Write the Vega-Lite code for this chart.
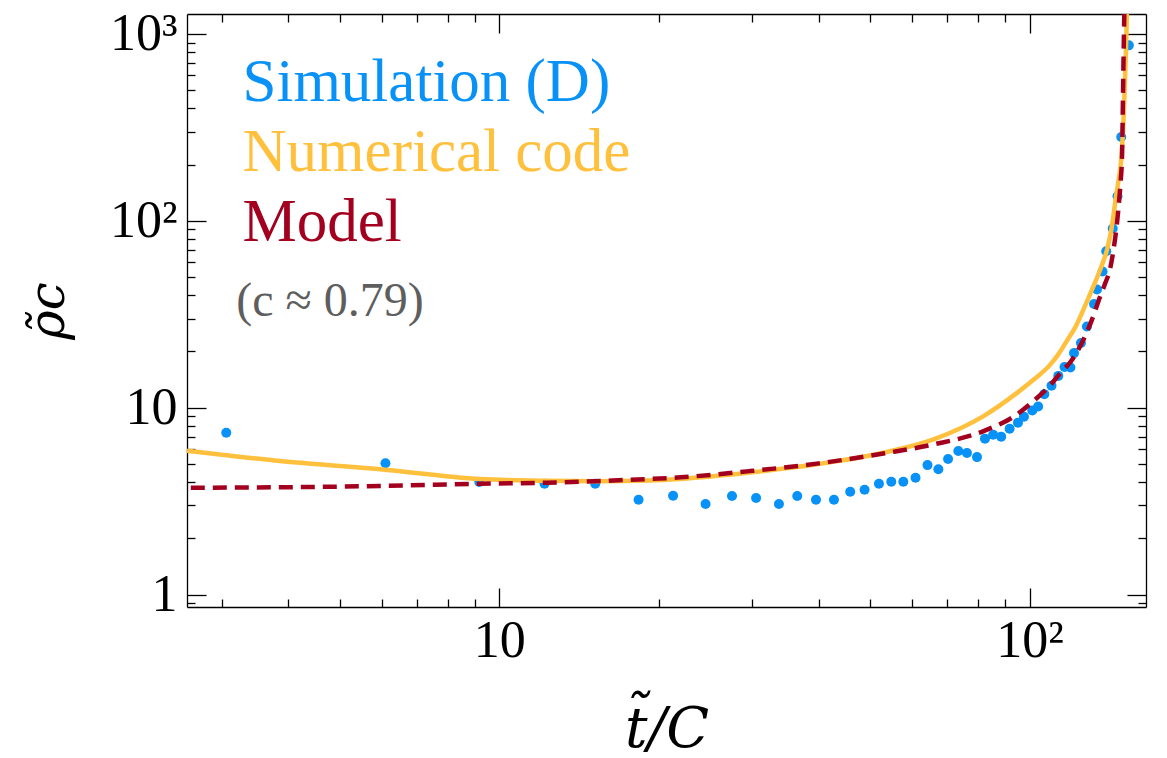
{
  "$schema": "https://vega.github.io/schema/vega-lite/v6.json",
  "width": 959,
  "height": 593,
  "autosize": {"type": "none"},
  "padding": {"left": 187, "top": 14, "right": 21, "bottom": 151},
  "background": "white",
  "config": {
    "view": {"stroke": null},
    "axis": {
      "grid": false,
      "labelFont": "Liberation Serif",
      "labelFontSize": 52,
      "labelColor": "black",
      "tickColor": "black",
      "tickWidth": 1.3,
      "domainColor": "black",
      "domainWidth": 1.3,
      "titleFont": "DejaVu Serif",
      "titleColor": "black",
      "titleFontWeight": "normal",
      "labelFlush": false,
      "labelOverlap": false
    }
  },
  "datasets": {
    "sim": [
      {"t": 3.056, "rho": 7.35}, {"t": 6.10, "rho": 5.04}, {"t": 9.17, "rho": 4.0},
      {"t": 12.17, "rho": 3.92}, {"t": 15.17, "rho": 3.92}, {"t": 18.31, "rho": 3.22},
      {"t": 21.27, "rho": 3.38}, {"t": 24.49, "rho": 3.05}, {"t": 27.47, "rho": 3.37},
      {"t": 30.5, "rho": 3.29}, {"t": 33.68, "rho": 3.05}, {"t": 36.47, "rho": 3.37},
      {"t": 39.56, "rho": 3.22}, {"t": 42.77, "rho": 3.22}, {"t": 45.9, "rho": 3.55},
      {"t": 48.85, "rho": 3.64}, {"t": 52.0, "rho": 3.92}, {"t": 54.86, "rho": 4.02},
      {"t": 57.8, "rho": 4.02}, {"t": 60.95, "rho": 4.22}, {"t": 64.2, "rho": 4.93},
      {"t": 67.3, "rho": 4.68}, {"t": 70.2, "rho": 5.31}, {"t": 73.4, "rho": 5.86},
      {"t": 76.2, "rho": 5.72}, {"t": 79.6, "rho": 5.44}, {"t": 82.4, "rho": 6.83},
      {"t": 85.4, "rho": 7.17}, {"t": 88.4, "rho": 7.0}, {"t": 91.7, "rho": 7.72},
      {"t": 95.1, "rho": 8.32}, {"t": 97.6, "rho": 8.95}, {"t": 101.2, "rho": 9.67},
      {"t": 103.8, "rho": 10.16}, {"t": 106.6, "rho": 11.82}, {"t": 110.0, "rho": 13.1},
      {"t": 113.3, "rho": 14.8}, {"t": 116.4, "rho": 16.5}, {"t": 119.4, "rho": 16.4},
      {"t": 121.3, "rho": 19.6}, {"t": 125.0, "rho": 22.2}, {"t": 128.3, "rho": 27.2},
      {"t": 132.3, "rho": 35.9}, {"t": 134.0, "rho": 42.9}, {"t": 137.3, "rho": 53.6},
      {"t": 139.5, "rho": 68.8}, {"t": 143.5, "rho": 91.0}, {"t": 146.5, "rho": 135.4},
      {"t": 148.9, "rho": 281}, {"t": 153.9, "rho": 869}
    ],
    "num": [
      {"t": 2.577, "rho": 5.88}, {"t": 3.0, "rho": 5.6}, {"t": 3.86, "rho": 5.18},
      {"t": 5.96, "rho": 4.68}, {"t": 9.2, "rho": 4.15}, {"t": 12.3, "rho": 4.06},
      {"t": 15.2, "rho": 4.04}, {"t": 19.27, "rho": 4.08}, {"t": 21.95, "rho": 4.16},
      {"t": 29.7, "rho": 4.5}, {"t": 39.7, "rho": 4.98}, {"t": 53.0, "rho": 5.74},
      {"t": 65.9, "rho": 6.77}, {"t": 81.9, "rho": 9.02}, {"t": 94.7, "rho": 12.0},
      {"t": 101.7, "rho": 14.1}, {"t": 109.4, "rho": 17.0}, {"t": 113.3, "rho": 19.3},
      {"t": 117.6, "rho": 22.8}, {"t": 122.0, "rho": 27.0}, {"t": 126.4, "rho": 33.6},
      {"t": 132.0, "rho": 44.7}, {"t": 135.9, "rho": 54.9}, {"t": 140.0, "rho": 70.2},
      {"t": 143.0, "rho": 93.6}, {"t": 145.0, "rho": 124.8}, {"t": 147.2, "rho": 166},
      {"t": 148.9, "rho": 213}, {"t": 150.9, "rho": 445}, {"t": 152.0, "rho": 824},
      {"t": 152.7, "rho": 1400}
    ],
    "model": [
      {"t": 2.62, "rho": 3.73}, {"t": 5.96, "rho": 3.81}, {"t": 9.2, "rho": 3.92},
      {"t": 12.3, "rho": 3.97}, {"t": 16.4, "rho": 4.08}, {"t": 21.95, "rho": 4.24},
      {"t": 29.7, "rho": 4.58}, {"t": 39.7, "rho": 5.02}, {"t": 53.0, "rho": 5.69},
      {"t": 65.9, "rho": 6.36}, {"t": 81.9, "rho": 7.5}, {"t": 94.7, "rho": 9.21},
      {"t": 101.7, "rho": 10.85}, {"t": 109.4, "rho": 13.2}, {"t": 114.3, "rho": 15.3},
      {"t": 120.2, "rho": 18.0}, {"t": 126.4, "rho": 23.2}, {"t": 131.2, "rho": 29.7},
      {"t": 135.9, "rho": 39.5}, {"t": 139.0, "rho": 46.6}, {"t": 142.0, "rho": 56},
      {"t": 144.0, "rho": 70.2}, {"t": 146.2, "rho": 97.6}, {"t": 147.6, "rho": 130},
      {"t": 148.6, "rho": 166}, {"t": 149.4, "rho": 220}, {"t": 150.0, "rho": 445},
      {"t": 150.7, "rho": 1055}, {"t": 151.0, "rho": 1400}
    ]
  },
  "resolve": {"axis": {"x": "independent", "y": "independent"}},
  "layer": [
    {
      "data": {"name": "sim"},
      "mark": {"type": "circle", "size": 100, "color": "#0891F6", "opacity": 1},
      "encoding": {
        "x": {"field": "t", "type": "quantitative",
          "scale": {"type": "log", "domain": [2.577, 165.8], "nice": false},
          "axis": {"orient": "bottom", "values": [10, 100], "tickSize": -19, "domain": true,
            "labelExpr": "datum.value == 10 ? '10' : '10²'", "labelPadding": 27,
            "title": "t̃/C", "titleFontSize": 56, "titleFontStyle": "italic", "titlePadding": 36}},
        "y": {"field": "rho", "type": "quantitative",
          "scale": {"type": "log", "domain": [0.858, 1279], "nice": false},
          "axis": {"orient": "left", "values": [1, 10, 100, 1000], "tickSize": -19, "domain": true,
            "labelExpr": "datum.value == 1 ? '1' : datum.value == 10 ? '10' : datum.value == 100 ? '10²' : '10³'",
            "labelPadding": 29, "title": "ρ̃c", "titleFontSize": 50, "titleFontStyle": "italic", "titlePadding": 36}}
      }
    },
    {
      "data": {"name": "num"},
      "mark": {"type": "line", "color": "#FFC03D", "strokeWidth": 4.5, "clip": true, "interpolate": "monotone"},
      "encoding": {
        "x": {"field": "t", "type": "quantitative",
          "scale": {"type": "log", "domain": [2.577, 165.8], "nice": false},
          "axis": {"orient": "bottom", "values": [3, 4, 5, 6, 7, 8, 9, 20, 30, 40, 50, 60, 70, 80, 90],
            "tickSize": -8, "labels": false, "domain": false, "title": null}},
        "y": {"field": "rho", "type": "quantitative",
          "scale": {"type": "log", "domain": [0.858, 1279], "nice": false},
          "axis": {"orient": "left", "values": [0.9, 2, 3, 4, 5, 6, 7, 8, 9, 20, 30, 40, 50, 60, 70, 80, 90, 200, 300, 400, 500, 600, 700, 800, 900],
            "tickSize": -8, "labels": false, "domain": false, "title": null}}
      }
    },
    {
      "data": {"name": "model"},
      "mark": {"type": "line", "color": "#A3001F", "strokeWidth": 4.5, "strokeDash": [14, 8], "clip": true, "interpolate": "monotone"},
      "encoding": {
        "x": {"field": "t", "type": "quantitative",
          "scale": {"type": "log", "domain": [2.577, 165.8], "nice": false},
          "axis": {"orient": "top", "values": [10, 100], "tickSize": -19, "labels": false, "domain": true, "title": null}},
        "y": {"field": "rho", "type": "quantitative",
          "scale": {"type": "log", "domain": [0.858, 1279], "nice": false},
          "axis": {"orient": "right", "values": [1, 10, 100, 1000], "tickSize": -19, "labels": false, "domain": true, "title": null}}
      }
    },
    {
      "data": {"values": [{"label": "Simulation (D)"}]},
      "mark": {"type": "text", "align": "left", "baseline": "alphabetic", "font": "Liberation Serif", "fontSize": 61, "color": "#0891F6"},
      "encoding": {
        "text": {"field": "label"},
        "x": {"datum": 3.28, "type": "quantitative",
          "scale": {"type": "log", "domain": [2.577, 165.8], "nice": false},
          "axis": {"orient": "top", "values": [3, 4, 5, 6, 7, 8, 9, 20, 30, 40, 50, 60, 70, 80, 90],
            "tickSize": -8, "labels": false, "domain": false, "title": null}},
        "y": {"datum": 440, "type": "quantitative",
          "scale": {"type": "log", "domain": [0.858, 1279], "nice": false},
          "axis": {"orient": "right", "values": [0.9, 2, 3, 4, 5, 6, 7, 8, 9, 20, 30, 40, 50, 60, 70, 80, 90, 200, 300, 400, 500, 600, 700, 800, 900],
            "tickSize": -8, "labels": false, "domain": false, "title": null}}
      }
    },
    {
      "data": {"values": [{"label": "Numerical code"}]},
      "mark": {"type": "text", "align": "left", "baseline": "alphabetic", "font": "Liberation Serif", "fontSize": 61, "color": "#FFC03D"},
      "encoding": {
        "text": {"field": "label"},
        "x": {"datum": 3.28, "type": "quantitative", "scale": {"type": "log", "domain": [2.577, 165.8], "nice": false}, "axis": null},
        "y": {"datum": 184, "type": "quantitative", "scale": {"type": "log", "domain": [0.858, 1279], "nice": false}, "axis": null}
      }
    },
    {
      "data": {"values": [{"label": "Model"}]},
      "mark": {"type": "text", "align": "left", "baseline": "alphabetic", "font": "Liberation Serif", "fontSize": 61, "color": "#A3001F"},
      "encoding": {
        "text": {"field": "label"},
        "x": {"datum": 3.28, "type": "quantitative", "scale": {"type": "log", "domain": [2.577, 165.8], "nice": false}, "axis": null},
        "y": {"datum": 77.8, "type": "quantitative", "scale": {"type": "log", "domain": [0.858, 1279], "nice": false}, "axis": null}
      }
    },
    {
      "data": {"values": [{"label": "(c ≈ 0.79)"}]},
      "mark": {"type": "text", "align": "left", "baseline": "alphabetic", "font": "Liberation Serif", "fontSize": 48, "color": "#5E5E5E"},
      "encoding": {
        "text": {"field": "label"},
        "x": {"datum": 3.19, "type": "quantitative", "scale": {"type": "log", "domain": [2.577, 165.8], "nice": false}, "axis": null},
        "y": {"datum": 30.9, "type": "quantitative", "scale": {"type": "log", "domain": [0.858, 1279], "nice": false}, "axis": null}
      }
    }
  ]
}
